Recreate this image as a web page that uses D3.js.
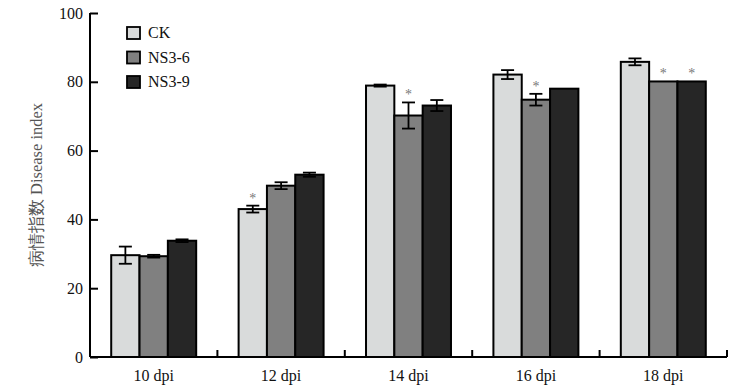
<!DOCTYPE html>
<html>
<head>
<meta charset="utf-8">
<script src="https://cdn.jsdelivr.net/npm/d3@7"></script>
<style>
  body { margin: 0; background: #fff; }
</style>
</head>
<body>
<svg id="chart" width="741" height="386"></svg>
<script>
const days = ['10 dpi', '12 dpi', '14 dpi', '16 dpi', '18 dpi'];
const groups = ['CK', 'NS3-6', 'NS3-9'];
const colors = ['#d9dbdb', '#808080', '#262626'];
const ck    = [29.6, 43.0, 78.9, 82.1, 85.8];
const ns36  = [29.3, 49.8, 70.2, 74.8, 80.1];
const ns39  = [33.8, 53.0, 73.1, 78.0, 80.1];
const ckErr   = [2.5, 1.0, 0.3, 1.3, 1.0];
const ns36Err = [0.4, 1.0, 3.8, 1.7, 0];
const ns39Err = [0.4, 0.6, 1.6, 0, 0];
// significance marks (group index per day)
const stars = [[], [0], [1], [1], [1, 2]];
const yTicks = [0, 20, 40, 60, 80, 100];

const values = [ck, ns36, ns39];
const errs = [ckErr, ns36Err, ns39Err];
const serif = '"Times New Roman", "Liberation Serif", serif';

const svg = d3.select('#chart');
const margin = { left: 90, right: 14, top: 13, bottom: 29 };
const W = 741, H = 386;

const x = d3.scaleBand().domain(days).range([margin.left, W - margin.right]).paddingInner(0).paddingOuter(0);
const x1 = d3.scaleBand().domain(groups).range([0, x.bandwidth() * 0.667]);
const y = d3.scaleLinear().domain([0, 100]).range([H - margin.bottom, margin.top]);

const barOffset = (x.bandwidth() - x1.range()[1]) / 2;

// bars
const g = svg.append('g');
days.forEach((d, i) => {
  groups.forEach((grp, j) => {
    const bx = x(d) + barOffset + x1(grp);
    const v = values[j][i];
    g.append('rect')
      .attr('x', bx)
      .attr('y', y(v))
      .attr('width', x1.bandwidth())
      .attr('height', y(0) - y(v))
      .style('fill', colors[j])
      .style('stroke', '#000')
      .style('stroke-width', '2px');

    const e = errs[j][i];
    const cx = bx + x1.bandwidth() / 2;
    if (e > 0) {
      const eb = g.append('g').style('stroke', '#000').style('stroke-width', '1.8px');
      eb.append('line').attr('x1', cx).attr('x2', cx).attr('y1', y(v + e)).attr('y2', y(v - e));
      eb.append('line').attr('x1', cx - 6.5).attr('x2', cx + 6.5).attr('y1', y(v + e)).attr('y2', y(v + e));
      eb.append('line').attr('x1', cx - 6.5).attr('x2', cx + 6.5).attr('y1', y(v - e)).attr('y2', y(v - e));
    }
    if (stars[i].includes(j)) {
      g.append('text')
        .attr('x', cx)
        .attr('y', y(v + e) - 3)
        .attr('text-anchor', 'middle')
        .style('font-family', serif)
        .style('font-size', '14px')
        .style('fill', '#777')
        .text('*');
    }
  });
});

// x axis
const xAxis = svg.append('g');
xAxis.append('line')
  .attr('x1', margin.left).attr('x2', W - margin.right)
  .attr('y1', y(0)).attr('y2', y(0))
  .style('stroke', '#000').style('stroke-width', '2px');
days.forEach((d, i) => {
  const tx = x(d) + x.bandwidth();
  xAxis.append('line')
    .attr('x1', tx).attr('x2', tx)
    .attr('y1', y(0)).attr('y2', y(0) - 7)
    .style('stroke', '#000').style('stroke-width', '2px');
  xAxis.append('text')
    .attr('x', x(d) + x.bandwidth() / 2)
    .attr('y', y(0) + 24)
    .attr('text-anchor', 'middle')
    .style('font-family', serif)
    .style('font-size', '16px')
    .style('fill', '#111')
    .text(d);
});

// y axis
const yAxis = svg.append('g')
  .attr('transform', `translate(${margin.left},0)`)
  .call(d3.axisRight(y).tickValues(yTicks).tickSize(8).tickFormat(d3.format('d')));
yAxis.attr('font-family', null);
yAxis.select('.domain').style('stroke', '#000').style('stroke-width', '2px')
  .attr('d', `M0,${y(0)}V${y(100)}`);
yAxis.selectAll('.tick line').style('stroke', '#000').style('stroke-width', '2px');
yAxis.selectAll('.tick text')
  .attr('x', -7)
  .attr('text-anchor', 'end')
  .style('font-size', '16px')
  .style('font-family', serif)
  .style('fill', '#111');

// y label
svg.append('text')
  .attr('transform', `translate(42,${(y(0) + y(100)) / 2}) rotate(-90)`)
  .attr('text-anchor', 'middle')
  .style('font-family', serif)
  .style('font-size', '16.5px')
  .style('fill', '#555')
  .text('病情指数 Disease index');

// legend
const legend = svg.append('g');
groups.forEach((grp, j) => {
  const ly = 27 + j * 24.5;
  legend.append('rect')
    .attr('x', 127).attr('y', ly)
    .attr('width', 13).attr('height', 12)
    .style('fill', colors[j])
    .style('stroke', '#000')
    .style('stroke-width', '1.8px');
  legend.append('text')
    .attr('x', 148).attr('y', ly + 11)
    .style('font-family', serif)
    .style('font-size', '16px')
    .style('fill', '#111')
    .text(grp);
});
</script>
</body>
</html>
